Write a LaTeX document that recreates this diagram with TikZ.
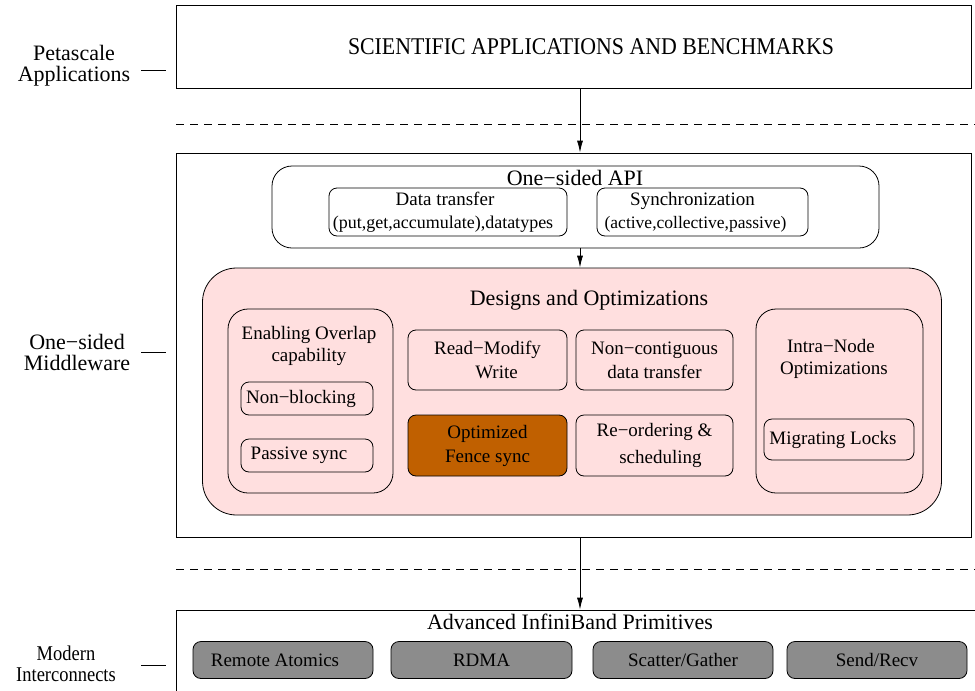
\documentclass[tikz,border=0pt]{standalone}
\usepackage{fontspec}
\setmainfont{Liberation Serif}
\usetikzlibrary{arrows.meta}
\definecolor{pinkfill}{RGB}{255,223,223}
\definecolor{fencefill}{RGB}{192,96,0}
\definecolor{grayfill}{RGB}{140,140,140}
\tikzset{
  plainbox/.style={draw, line width=0.8pt, inner sep=0pt, align=center},
  rbox/.style={plainbox, rounded corners=8pt},
  arr/.style={-{Latex[length=12pt,width=6pt]}, line width=0.8pt},
  lbl/.style={align=center, inner sep=0pt, font=\fontsize{22}{21}\selectfont},
  ttl/.style={inner sep=0pt, anchor=base, font=\fontsize{22}{26}\selectfont},
  med/.style={font=\fontsize{19}{24}\selectfont},
  twoline/.style={font=\fontsize{19}{22}\selectfont},
  dashsep/.style={dashed, dash pattern=on 8pt off 6pt, line width=0.8pt},
}
\begin{document}
\begin{tikzpicture}[x=1pt,y=-1pt]
\clip (0,0) rectangle (975,691);
\useasboundingbox (0,0) rectangle (975,691);
\fill[white] (0,0) rectangle (975,691);
\coordinate (ax) at (580,0);
% top
\node[plainbox, minimum width=795pt, minimum height=83pt] (top) at (573.5,46.5) {};
\node[ttl, font=\fontsize{24}{26}\selectfont] (topt) at (591,54.5) {\scalebox{0.91}[1]{SCIENTIFIC APPLICATIONS AND BENCHMARKS}};
% middle
\node[plainbox, minimum width=795pt, minimum height=384pt] (mid) at (573.5,345) {};
\node[plainbox, rounded corners=20pt, minimum width=607pt, minimum height=82pt] (api) at (575.5,207) {};
\node[ttl] (apit) at (575,185) {One−sided API};
\node[rbox, minimum width=238pt, minimum height=48pt, twoline] (dt) at (448,212) {Data transfer\hspace*{6pt}\\[1pt]{\fontsize{18}{22}\selectfont(put,get,accumulate),datatypes\hspace*{10pt}}};
\node[rbox, minimum width=211pt, minimum height=48pt, twoline] (sy) at (702.5,212) {Synchronization\hspace*{20pt}\\[1pt]{\fontsize{17.5}{22}\selectfont(active,collective,passive)\hspace*{14pt}}};
\node[plainbox, rounded corners=34pt, fill=pinkfill, minimum width=739pt, minimum height=247pt] (pink) at (572,391.5) {};
\node[ttl] (pinkt) at (589,305) {Designs and Optimizations};
\node[plainbox, rounded corners=20pt, minimum width=165pt, minimum height=184pt] (enab) at (310.5,401) {};
\node[align=center, inner sep=0pt, twoline] (enabt) at (309,346) {Enabling Overlap\\capability};
\node[rbox, minimum width=132pt, minimum height=33pt, med] (nb) at (307,398.5) {Non−blocking\hspace*{12pt}};
\node[rbox, minimum width=132pt, minimum height=33pt, med] (ps) at (307,455.5) {Passive sync\hspace*{16pt}};
\node[rbox, minimum width=159pt, minimum height=60pt, med] (rmw) at (487.5,360) {Read−Modify\\\hspace*{18pt}Write};
\node[rbox, minimum width=157pt, minimum height=60pt, med] (nc) at (654.5,360) {Non−contiguous\\data transfer};
\node[rbox, fill=fencefill, minimum width=159pt, minimum height=61pt, med] (fence) at (487.5,445.5) {Optimized\\Fence sync};
\node[rbox, minimum width=157pt, minimum height=61pt, font=\fontsize{19}{27}\selectfont] (ro) at (654.5,445.5) {Re−ordering \&\\\hspace*{12pt}scheduling};
\node[plainbox, rounded corners=20pt, minimum width=167pt, minimum height=184pt] (intra) at (839.5,401) {};
\node[align=center, inner sep=0pt, twoline] (intrat) at (834,359) {Intra−Node\hspace*{6pt}\\Optimizations};
\node[rbox, minimum width=150pt, minimum height=41pt, med] (mig) at (839,439.5) {Migrating Locks\hspace*{12pt}};
% bottom
\node[plainbox, minimum width=820pt, minimum height=100pt] (bot) at (586,660) {};
\node[ttl] (bott) at (570,629) {Advanced InfiniBand Primitives};
\node[rbox, fill=grayfill, minimum width=180pt, minimum height=37pt, med] (ra) at (283,660) {Remote Atomics\hspace*{16pt}};
\node[rbox, fill=grayfill, minimum width=181pt, minimum height=37pt, med] (rdma) at (481.5,660) {RDMA};
\node[rbox, fill=grayfill, minimum width=180pt, minimum height=37pt, med] (sg) at (683,660) {Scatter/Gather};
\node[rbox, fill=grayfill, minimum width=180pt, minimum height=37pt, med] (sr) at (877,660) {Send/Recv};
% arrows
\draw[arr] (top.south -| ax) -- (mid.north -| ax);
\draw[arr] (api.south -| ax) -- (pink.north -| ax);
\draw[arr] (mid.south -| ax) -- (bot.north -| ax);
% dashed separators
\draw[dashsep] (176,124) -- (975,124);
\draw[dashsep] (176,569) -- (975,569);
% left labels
\node[lbl] (l1) at (74,66) {Petascale\\Applications};
\node[lbl] (l2) at (77,352) {One−sided\\Middleware};
\node[lbl, font=\fontsize{21}{21}\selectfont] (l3) at (66,664) {\scalebox{0.88}[1]{Modern}\\\scalebox{0.88}[1]{Interconnects}};
\draw[line width=0.8pt] (141,70) -- (166,70);
\draw[line width=0.8pt] (141,352) -- (166,352);
\draw[line width=0.8pt] (141,665) -- (166,665);
\end{tikzpicture}
\end{document}
